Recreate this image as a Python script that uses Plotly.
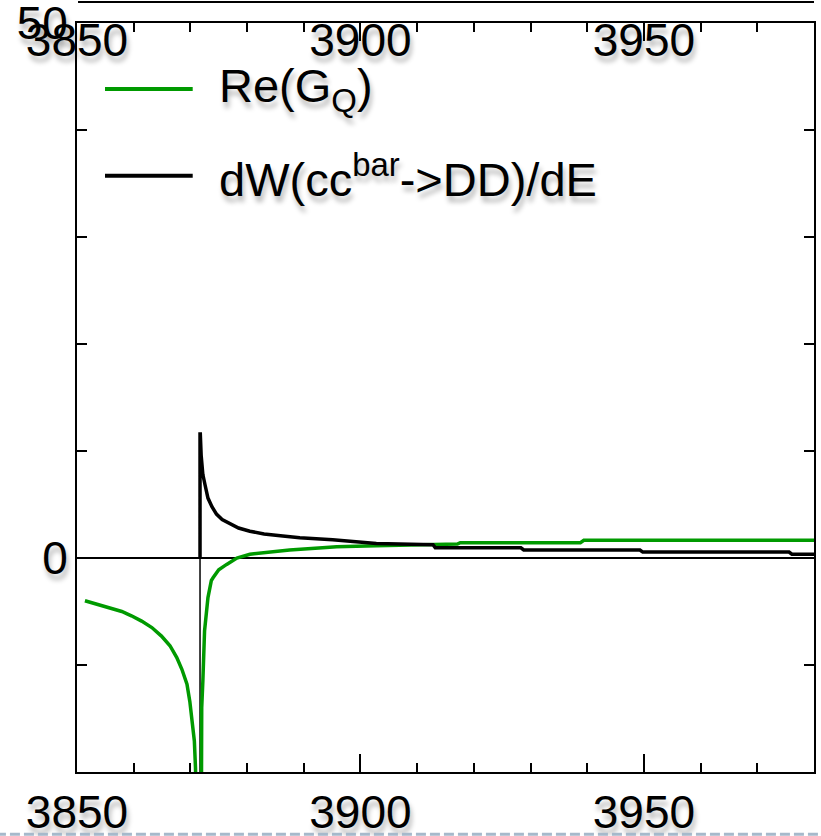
import plotly.graph_objects as go

# ---------------- data ----------------
threshold = 3871.7

green_left_x = [3851.4, 3853.2, 3855.5, 3857.9, 3859.6, 3861.4, 3863.2, 3864.9, 3866.4, 3867.6, 3868.5,
                3869.4, 3869.9, 3870.3, 3870.7, 3870.9, 3871.0, 3871.2]
green_left_y = [-4.0, -4.27, -4.64, -5.0, -5.4, -5.9, -6.5, -7.3, -8.2, -9.3, -10.4,
                -11.8, -13.4, -15.2, -17.1, -19.6, -21.0, -26.0]

green_right_x = [3871.9, 3872.0, 3872.2, 3872.5, 3873.1, 3873.7, 3874.0, 3875.0, 3876.4, 3878.2, 3880.5, 3883.5,
                 3887.5, 3893.3, 3895.8, 3902.8, 3912.7, 3917.1, 3917.6, 3938.8, 3939.4, 3980.0]
green_right_y = [-30.0, -14.0, -11.5, -6.8, -3.7, -2.1, -1.85, -1.1, -0.6, 0.0, 0.35, 0.5,
                 0.75, 0.95, 1.05, 1.15, 1.3, 1.3, 1.43, 1.43, 1.65, 1.65]

black_x = [3871.7, 3871.7, 3871.75, 3871.9, 3872.0, 3872.2, 3872.6, 3873.1, 3873.8, 3874.6, 3875.6, 3876.9,
           3878.5, 3880.5, 3883.0, 3886.3, 3889.3, 3895.1, 3902.8, 3912.8, 3913.2, 3928.3, 3928.8,
           3949.3, 3949.8, 3975.6, 3976.1, 3980.0]
black_y = [0.0, 11.6, 11.6, 9.6, 8.8, 7.8, 6.8, 5.6, 4.8, 4.1, 3.6, 3.2,
           2.8, 2.5, 2.25, 2.05, 1.9, 1.7, 1.35, 1.25, 0.95, 0.95, 0.75,
           0.75, 0.55, 0.55, 0.35, 0.35]

x_range = [3850, 3980]
y_range = [-20, 50]
x_tick_vals = [3850, 3900, 3950]
x_tick_text = ["3850", "3900", "3950"]
y_tick_vals = [0, 50]
y_tick_text = ["0", "50"]

legend_labels = ["Re(G<sub>Q</sub>)", "dW(cc<sup>bar</sup>->DD)/dE"]

GREEN = "#009a00"
FONT = "Liberation Sans, Arial, Helvetica, sans-serif"
SHADOW = "2px 6px 5px rgba(0,0,0,0.28)"

fig = go.Figure()

# threshold marker (thin vertical line below zero)
fig.add_trace(go.Scatter(x=[threshold, threshold], y=[y_range[0] - 5, 0], mode="lines",
                         line=dict(color="black", width=1.5), showlegend=False, hoverinfo="skip"))

fig.add_trace(go.Scatter(x=green_left_x, y=green_left_y, mode="lines",
                         line=dict(color=GREEN, width=3.5), showlegend=False))
fig.add_trace(go.Scatter(x=green_right_x, y=green_right_y, mode="lines",
                         line=dict(color=GREEN, width=3.5), showlegend=False))
fig.add_trace(go.Scatter(x=black_x, y=black_y, mode="lines",
                         line=dict(color="black", width=3.5), showlegend=False))

# invisible trace to create the top (label) axis
fig.add_trace(go.Scatter(x=[x_range[0]], y=[0], xaxis="x2", mode="markers",
                         marker=dict(opacity=0), showlegend=False, hoverinfo="skip"))

tickfont = dict(family=FONT, size=46, color="black", shadow=SHADOW)

fig.update_layout(
    width=821, height=836,
    margin=dict(l=77, r=7, t=23, b=64),
    paper_bgcolor="white", plot_bgcolor="white",
    showlegend=False,
    xaxis=dict(range=x_range, showgrid=False, zeroline=False, automargin=False,
               showline=True, linecolor="black", linewidth=2, mirror="ticks",
               ticks="inside", tickvals=x_tick_vals, ticktext=x_tick_text,
               ticklen=18, tickwidth=1.5, tickcolor="black",
               minor=dict(tick0=3850, dtick=10, ticks="inside", ticklen=9, tickwidth=1.5, tickcolor="black"),
               tickfont=tickfont, ticklabelstandoff=-1, ticklabeloverflow="allow"),
    xaxis2=dict(range=x_range, overlaying="x", side="top", showgrid=False, zeroline=False, automargin=False,
                showline=False, ticks="", tickvals=x_tick_vals, ticktext=x_tick_text,
                ticklabelposition="inside", tickfont=tickfont, ticklabeloverflow="allow",
                ticklabelstandoff=-2),
    yaxis=dict(range=y_range, showgrid=False, automargin=False,
               zeroline=True, zerolinecolor="black", zerolinewidth=1.5,
               showline=True, linecolor="black", linewidth=2, mirror="ticks",
               ticks="inside", tickvals=y_tick_vals, ticktext=y_tick_text,
               ticklen=10, tickwidth=1.5, tickcolor="black",
               minor=dict(tick0=0, dtick=10, ticks="inside", ticklen=10, tickwidth=1.5, tickcolor="black"),
               tickfont=tickfont, ticklabelstandoff=-2, ticklabeloverflow="allow"),
)

# manual legend
legend_colors = [GREEN, "black"]
legend_y = [0.912, 0.796]
for lab, col, ly in zip(legend_labels, legend_colors, legend_y):
    fig.add_shape(type="line", xref="paper", yref="paper", x0=0.038, x1=0.157, y0=ly, y1=ly,
                  line=dict(color=col, width=4))
    fig.add_annotation(xref="paper", yref="paper", x=0.19, y=ly, xanchor="left", yanchor="middle",
                       text=lab, showarrow=False,
                       font=dict(family=FONT, size=47, color="black", shadow=SHADOW))

# frame edge of the panel above (cut off at the top of the picture)
fig.add_shape(type="line", xref="paper", yref="paper", x0=0.0014, x1=1.0, y0=1.028, y1=1.028,
              line=dict(color="black", width=2))
# dashed separator at the bottom of the picture
fig.add_shape(type="line", xref="paper", yref="paper", x0=-0.11, x1=1.01, y0=-0.083, y1=-0.083,
              line=dict(color="#a6b9cb", width=3, dash="10px,4px"))

fig.write_html("out.html", config={"displayModeBar": False},
               post_script="document.body.style.margin='0';")
